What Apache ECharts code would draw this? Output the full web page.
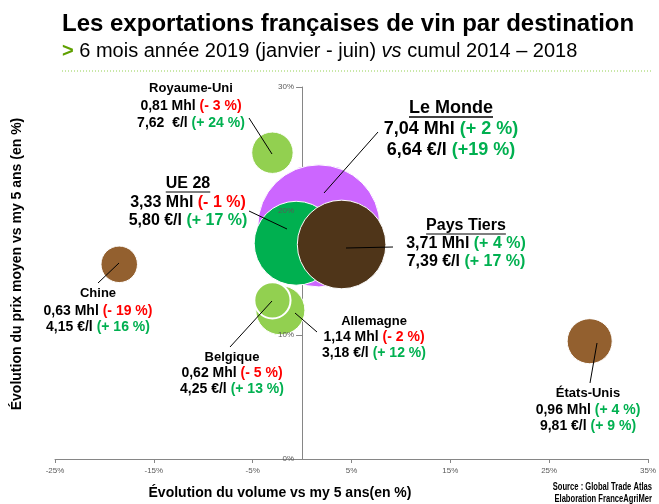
<!DOCTYPE html>
<html>
<head>
<meta charset="utf-8">
<script src="https://cdn.jsdelivr.net/npm/echarts@6/dist/echarts.min.js"></script>
<style>
  html, body { margin: 0; padding: 0; background: #fff; }
  #chart { width: 659px; height: 504px; }
</style>
</head>
<body>
<div id="chart"></div>
<script>
// destinations (ordre de dessin : les premiers sont dessous)
var names = ['Le Monde', 'UE 28', 'Pays Tiers', 'Allemagne', 'Belgique', 'Royaume-Uni', 'Chine', 'États-Unis'];
// position (%)
var volEvol = [1.7, -0.6, 4.0, -2.2, -3.0, -3.0, -18.5, 29.1];
var priceEvol = [18.8, 17.4, 17.3, 12.0, 12.8, 24.7, 15.7, 9.5];
// volumes en Mhl (taille des bulles)
var volumes = [7.04, 3.33, 3.71, 1.14, 0.62, 0.81, 0.63, 0.96];
// textes des étiquettes
var volText = ['7,04', '3,33', '3,71', '1,14', '0,62', '0,81', '0,63', '0,96'];
var priceText = ['6,64', '5,80', '7,39', '3,18', '4,25', '7,62 ', '4,15', '9,81'];
var volPct = ['+ 2 %', '- 1 %', '+ 4 %', '- 2 %', '- 5 %', '- 3 %', '- 19 %', '+ 4 %'];
var pricePct = ['+19 %', '+ 17 %', '+ 17 %', '+ 12 %', '+ 13 %', '+ 24 %', '+ 16 %', '+ 9 %'];
// graduations
var xTicks = ['-25%', '-15%', '-5%', '5%', '15%', '25%', '35%'];
var yTicks = ['0%', '10%', '20%', '30%'];

var colors = ['#CC66FF', '#00B050', '#4F3519', '#92D050', '#92D050', '#92D050', '#93602F', '#93602F'];
var FONT = "'Liberation Sans', Arial, sans-serif";

// placement des étiquettes (pixels) : centre x, y des 3 lignes, taille titre/valeurs, souligné
var labelPos = [
    {x: 451, y: [108, 129, 150], t: 18, v: 18, u: true},
    {x: 188, y: [184, 203, 221], t: 16, v: 16, u: true},
    {x: 466, y: [226, 244, 262], t: 16, v: 16, u: true},
    {x: 374, y: [321, 337, 353], t: 13, v: 14, u: false},
    {x: 232, y: [357, 373, 389], t: 13, v: 14, u: false},
    {x: 191, y: [88, 106, 123], t: 13, v: 14, u: false},
    {x: 98, y: [293, 311, 327], t: 13, v: 14, u: false},
    {x: 588, y: [393, 410, 426], t: 13, v: 14, u: false}
];
// traits de rappel
var leaders = [
    [378, 132, 324, 193],
    [249, 211, 287, 229],
    [393, 247, 346, 248],
    [317, 332, 295, 313],
    [230, 347, 272, 301],
    [249, 118, 272, 154],
    [98, 283, 119, 263],
    [590, 383, 597, 343]
];

var measure = document.createElement('canvas').getContext('2d');
function textWidth(str, font) {
    measure.font = font;
    return measure.measureText(str).width;
}

function txt(x, y, str, size, weight, align, extra) {
    var el = {
        type: 'text', x: x, y: y, z: 100,
        style: {text: str, fontFamily: FONT, fontSize: size, fontWeight: weight,
            fill: '#000', align: align, verticalAlign: 'middle'}
    };
    for (var k in extra) el[k] = extra[k];
    return el;
}

var graphics = [];
// titre
graphics.push(txt(62, 24, 'Les exportations françaises de vin par destination', 24, 'bold', 'left'));
graphics.push({
    type: 'text', x: 62, y: 51, z: 100,
    style: {
        text: '{g|>} {n|6 mois année 2019 (janvier - juin) }{i|vs}{n| cumul 2014 – 2018}',
        align: 'left', verticalAlign: 'middle', fontFamily: FONT, fontSize: 20,
        rich: {
            g: {fontFamily: FONT, fontSize: 20, fontWeight: 'bold', fill: '#5FA000'},
            n: {fontFamily: FONT, fontSize: 20, fill: '#000'},
            i: {fontFamily: FONT, fontSize: 20, fontStyle: 'italic', fill: '#000'}
        }
    }
});
graphics.push({
    type: 'line', z: 100,
    shape: {x1: 62, y1: 71, x2: 652, y2: 71},
    style: {stroke: '#92D050', lineWidth: 1, lineDash: [1, 2]}
});
// titres d'axes
graphics.push(txt(17, 264, 'Évolution du prix moyen vs my 5 ans (en %)', 14, 'bold', 'center', {rotation: Math.PI / 2}));
graphics.push(txt(280, 493, 'Évolution du volume vs my 5 ans(en %)', 14, 'bold', 'center'));
graphics.push(txt(652, 487, 'Source : Global Trade Atlas', 10, 'bold', 'right', {scaleX: 0.76}));
graphics.push(txt(652, 499, 'Elaboration FranceAgriMer', 10, 'bold', 'right', {scaleX: 0.76}));

// étiquettes des bulles
names.forEach(function (name, i) {
    var p = labelPos[i];
    graphics.push(txt(p.x, p.y[0], name, p.t, 'bold', 'center'));
    if (p.u) {
        var w = textWidth(name, 'bold ' + p.t + 'px ' + FONT);
        var uy = p.y[0] + p.t * 0.5;
        graphics.push({
            type: 'line', z: 100,
            shape: {x1: p.x - w / 2, y1: uy, x2: p.x + w / 2, y2: uy},
            style: {stroke: '#000', lineWidth: p.t > 16 ? 1.5 : 1.2}
        });
    }
    var rich = {
        b: {fontFamily: FONT, fontSize: p.v, fontWeight: 'bold', fill: '#000'},
        r: {fontFamily: FONT, fontSize: p.v, fontWeight: 'bold', fill: '#FF0000'},
        g: {fontFamily: FONT, fontSize: p.v, fontWeight: 'bold', fill: '#00B050'}
    };
    var vc = volPct[i].charAt(0) === '-' ? 'r' : 'g';
    var pc = pricePct[i].charAt(0) === '-' ? 'r' : 'g';
    graphics.push({
        type: 'text', x: p.x, y: p.y[1], z: 100,
        style: {text: '{b|' + volText[i] + ' Mhl }{' + vc + '|(' + volPct[i] + ')}',
            rich: rich, align: 'center', verticalAlign: 'middle', fontFamily: FONT, fontSize: p.v, fontWeight: 'bold'}
    });
    graphics.push({
        type: 'text', x: p.x, y: p.y[2], z: 100,
        style: {text: '{b|' + priceText[i] + ' €/l }{' + pc + '|(' + pricePct[i] + ')}',
            rich: rich, align: 'center', verticalAlign: 'middle', fontFamily: FONT, fontSize: p.v, fontWeight: 'bold'}
    });
    var l = leaders[i];
    graphics.push({
        type: 'line', z: 100,
        shape: {x1: l[0], y1: l[1], x2: l[2], y2: l[3]},
        style: {stroke: '#000', lineWidth: 1}
    });
});

var seriesData = names.map(function (name, i) {
    return {
        name: name,
        value: [volEvol[i], priceEvol[i], volumes[i]],
        itemStyle: {color: colors[i], borderColor: '#fff', borderWidth: name === 'Belgique' ? 2 : 1, opacity: 1}
    };
});

var axisLabelStyle = {fontFamily: FONT, fontSize: 8, color: '#595959'};

var myChart = echarts.init(document.getElementById('chart'));
var option = {
    animation: false,
    grid: {left: 55, right: 8, top: 87, bottom: 45, containLabel: false},
    xAxis: {
        type: 'value', min: -25, max: 35, interval: 10,
        splitLine: {show: false},
        axisLine: {onZero: false, lineStyle: {color: '#868686'}},
        axisTick: {show: true, length: 4, lineStyle: {color: '#868686'}},
        axisLabel: Object.assign({margin: 8, formatter: function (v) {
            return xTicks[Math.round((v + 25) / 10)] || '';
        }}, axisLabelStyle)
    },
    yAxis: [{
        type: 'value', min: 0, max: 30, interval: 10, position: 'left',
        splitLine: {show: false},
        axisLine: {show: true, onZero: true, lineStyle: {color: '#868686'}},
        axisTick: {show: true, length: 6, lineStyle: {color: '#868686'}},
        axisLabel: {show: false}
    }, {
        // libellés seuls, au-dessus des bulles, calés sur l'axe x = 0
        type: 'value', min: 0, max: 30, interval: 10, position: 'left', z: 10,
        offset: -248,
        splitLine: {show: false},
        axisLine: {show: false, onZero: false},
        axisTick: {show: false},
        axisLabel: Object.assign({margin: 9, formatter: function (v) {
            return yTicks[Math.round(v / 10)] || '';
        }}, axisLabelStyle)
    }],
    series: [{
        type: 'scatter',
        yAxisIndex: 0,
        data: seriesData,
        symbolSize: function (val) {
            return 46 * Math.sqrt(val[2]);
        },
        emphasis: {disabled: true}
    }],
    graphic: graphics
};
myChart.setOption(option);
window.onresize = myChart.resize;
</script>
</body>
</html>
